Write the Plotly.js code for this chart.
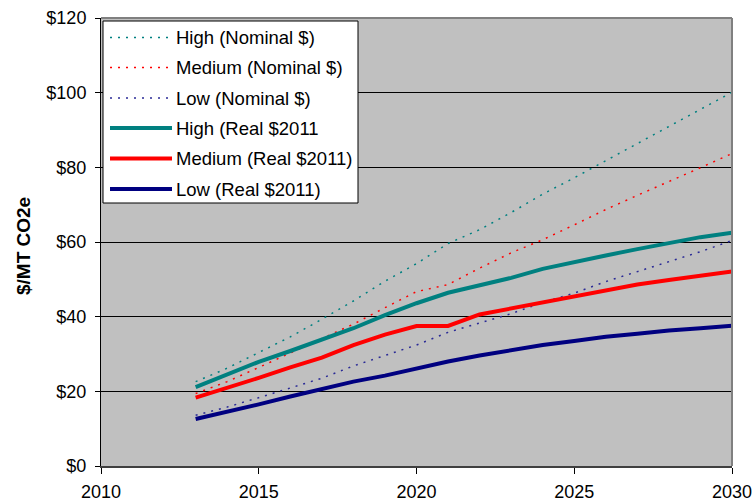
<!DOCTYPE html>
<html>
<head>
<meta charset="utf-8">
<script src="https://cdn.plot.ly/plotly-3.0.1.min.js"></script>
<style>html,body{margin:0;padding:0;background:#fff;}#chart{width:753px;height:504px;}</style>
</head>
<body>
<div id="chart"></div>
<script>
const years = [2013,2014,2015,2016,2017,2018,2019,2020,2021,2022,2023,2024,2025,2026,2027,2028,2029,2030];
const highNominal = [22.6,26.2,30.4,34.6,39.3,44.2,49.5,54.2,59.6,63.3,67.9,72.8,77.2,81.8,86.4,91.0,95.6,100.1];
const mediumNominal = [19.4,22.6,26.4,30.2,34.2,38.0,42.4,46.7,48.6,53.0,57.1,60.6,64.6,68.7,72.5,76.1,79.9,83.7];
const lowNominal = [13.6,15.8,18.3,20.8,23.5,26.8,29.6,32.4,35.8,38.2,40.8,43.8,46.3,49.4,52.0,54.7,57.4,60.4];
const highReal = [21.1,24.4,27.9,30.8,33.8,36.9,40.4,43.6,46.4,48.5,50.4,52.8,54.7,56.4,58.1,59.7,61.3,62.5];
const mediumReal = [18.3,20.9,23.6,26.4,29.0,32.4,35.2,37.5,37.5,40.6,42.2,44.0,45.6,47.1,48.6,49.8,51.0,52.1];
const lowReal = [12.6,14.5,16.5,18.6,20.5,22.6,24.2,26.1,28.0,29.6,31.0,32.4,33.5,34.6,35.4,36.3,36.9,37.6];
const seriesNames = ["High (Nominal $)","Medium (Nominal $)","Low (Nominal $)","High (Real $2011","Medium (Real $2011)","Low (Real $2011)"];
const yTickVals = [0,20,40,60,80,100,120];
const yTickText = ["$0","$20","$40","$60","$80","$100","$120"];
const xTickVals = [2010,2015,2020,2025,2030];

const TEAL = "#008080", RED = "#FF0000", NAVY = "#000080";
const FONT = "Arial, Liberation Sans, sans-serif";
const seriesData = [highNominal, mediumNominal, lowNominal, highReal, mediumReal, lowReal];
const styles = [
  {color: TEAL, width: 1.5, dash: "2px,6px"},
  {color: RED, width: 1.5, dash: "2px,6px"},
  {color: "#2a2a96", width: 1.5, dash: "2px,6px"},
  {color: TEAL, width: 4, dash: "solid"},
  {color: RED, width: 4, dash: "solid"},
  {color: NAVY, width: 4, dash: "solid"}
];

const traces = seriesData.map((d, i) => ({
  x: years, y: d, type: "scatter", mode: "lines", name: seriesNames[i],
  line: styles[i], showlegend: false, hoverinfo: "skip"
}));

// plot area geometry (px)
const W = 753, H = 504, L = 101, R = 732, T = 18, B = 466;
const px2x = p => (p - L) / (R - L);
const px2y = p => (B - p) / (B - T);

const shapes = [
  {type: "line", xref: "paper", yref: "paper", x0: 0, x1: 1, y0: 1, y1: 1, line: {color: "#808080", width: 2}},
  {type: "line", xref: "paper", yref: "paper", x0: 1, x1: 1, y0: 0, y1: 1, line: {color: "#808080", width: 2}},
  {type: "rect", xref: "paper", yref: "paper", x0: px2x(103), x1: px2x(358), y0: px2y(203), y1: px2y(21),
   fillcolor: "#FFFFFF", line: {color: "#000000", width: 1}, layer: "above"}
];
const annotations = [
  {text: "<b>$/MT CO2e</b>", xref: "paper", yref: "paper", x: px2x(23), y: px2y(246), textangle: -90,
   showarrow: false, font: {family: FONT, size: 19, color: "#000"}, xanchor: "center", yanchor: "middle"}
];
const legendY = [37.5, 67.5, 98, 128, 158.5, 189];
seriesNames.forEach((n, i) => {
  shapes.push({type: "line", xref: "paper", yref: "paper", x0: px2x(110), x1: px2x(172), y0: px2y(legendY[i]), y1: px2y(legendY[i]),
    line: styles[i], layer: "above"});
  annotations.push({text: n, xref: "paper", yref: "paper", x: px2x(174), y: px2y(legendY[i]), xanchor: "left", yanchor: "middle",
    showarrow: false, font: {family: FONT, size: 18.5, color: "#000"}});
});

const layout = {
  width: W, height: H,
  margin: {l: L, r: W - R, t: T, b: H - B, pad: 0},
  paper_bgcolor: "#FFFFFF", plot_bgcolor: "#C0C0C0",
  font: {family: FONT, size: 18, color: "#000"},
  xaxis: {range: [2010, 2030], tickvals: xTickVals, ticktext: xTickVals.map(String), showgrid: false, zeroline: false,
    showline: true, linecolor: "#404040", linewidth: 1.5, ticks: "outside", ticklen: 6, tickcolor: "#000", tickwidth: 1,
    ticklabelstandoff: 3, tickfont: {size: 18}, fixedrange: true},
  yaxis: {range: [0, 120], tickvals: yTickVals, ticktext: yTickText, showgrid: true, gridcolor: "#000000", gridwidth: 1,
    zeroline: false, showline: true, linecolor: "#000", linewidth: 1, ticks: "outside", ticklen: 5, tickcolor: "#000",
    ticklabelstandoff: 5, tickfont: {size: 18}, fixedrange: true},
  shapes: shapes, annotations: annotations, showlegend: false
};
Plotly.newPlot("chart", traces, layout, {displayModeBar: false, staticPlot: true});
</script>
</body>
</html>
